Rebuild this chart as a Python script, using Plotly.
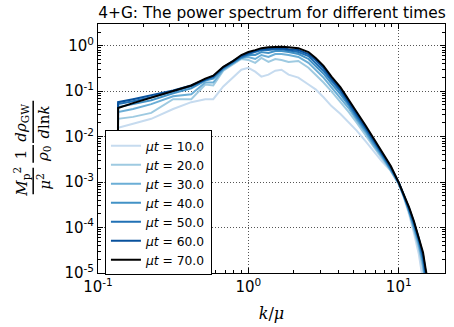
import numpy as np
import plotly.graph_objects as go

# k / mu grid (common to all snapshots)
k = [0.134, 0.136, 0.171, 0.226, 0.316, 0.417, 0.517, 0.584, 0.681, 0.794, 0.898, 1.0,
     1.11, 1.22, 1.36, 1.51, 1.66, 1.85, 2.15, 2.51, 2.80, 3.16, 3.57, 4.10, 4.64,
     5.25, 6.03, 6.81, 7.70, 8.85, 10.0, 10.8, 11.7, 12.6, 13.6, 14.5, 15.1, 15.8]

# log10 of the normalised GW power spectrum
log_t10 = [-7, -1.803, -1.717, -1.609, -1.393, -1.242, -1.177, -1.177, -0.896, -0.702, -0.529, -0.486,
           -0.572, -0.680, -0.637, -0.551, -0.529, -0.637, -0.702, -0.853, -0.961, -1.134, -1.328,
           -1.501, -1.674, -1.868, -2.106, -2.322, -2.538, -2.754, -3.056, -3.337, -3.704, -4.114,
           -4.590, -5.173, -5.713, -6.145]
log_t20 = [-7, -1.609, -1.566, -1.479, -1.177, -1.177, -0.853, -0.875, -0.551, -0.400, -0.292, -0.313,
           -0.378, -0.270, -0.356, -0.292, -0.313, -0.356, -0.335, -0.486, -0.637, -0.810, -1.004,
           -1.242, -1.458, -1.695, -1.976, -2.235, -2.473, -2.754, -3.035, -3.315, -3.661, -4.050,
           -4.460, -4.914, -5.389, -5.886]
log_t30 = [-7, -1.458, -1.393, -1.285, -1.112, -1.069, -0.810, -0.810, -0.529, -0.378, -0.270, -0.248,
           -0.292, -0.205, -0.248, -0.184, -0.184, -0.205, -0.248, -0.378, -0.529, -0.702, -0.918,
           -1.156, -1.371, -1.631, -1.911, -2.192, -2.430, -2.732, -3.035, -3.315, -3.639, -4.006,
           -4.395, -4.827, -5.281, -5.756]
log_t40 = [-7, -1.350, -1.285, -1.199, -1.048, -0.940, -0.767, -0.724, -0.508, -0.378, -0.270, -0.205,
           -0.205, -0.140, -0.162, -0.119, -0.119, -0.140, -0.184, -0.292, -0.443, -0.616, -0.832,
           -1.069, -1.307, -1.587, -1.868, -2.149, -2.397, -2.711, -3.013, -3.294, -3.618, -3.963,
           -4.330, -4.741, -5.173, -5.605]
log_t50 = [-7, -1.285, -1.220, -1.134, -1.004, -0.896, -0.745, -0.691, -0.486, -0.356, -0.248, -0.184,
           -0.140, -0.097, -0.097, -0.076, -0.076, -0.097, -0.140, -0.227, -0.378, -0.551, -0.767,
           -1.004, -1.263, -1.544, -1.825, -2.106, -2.365, -2.689, -3.013, -3.294, -3.596, -3.920,
           -4.287, -4.676, -5.086, -5.497]
log_t60 = [-7, -1.242, -1.177, -1.091, -0.983, -0.875, -0.734, -0.670, -0.475, -0.346, -0.227, -0.162,
           -0.119, -0.076, -0.065, -0.054, -0.054, -0.076, -0.097, -0.184, -0.313, -0.486, -0.724,
           -0.961, -1.220, -1.501, -1.803, -2.084, -2.343, -2.667, -3.013, -3.272, -3.575, -3.877,
           -4.244, -4.611, -5.000, -5.389]
log_t70 = [-7, -1.371, -1.263, -1.145, -1.004, -0.875, -0.724, -0.659, -0.464, -0.335, -0.205, -0.140,
           -0.097, -0.054, -0.032, -0.022, -0.022, -0.032, -0.054, -0.140, -0.270, -0.443, -0.680,
           -0.918, -1.177, -1.458, -1.760, -2.041, -2.322, -2.646, -3.013, -3.272, -3.553, -3.855,
           -4.201, -4.546, -4.914, -5.281]

times = ["10.0", "20.0", "30.0", "40.0", "50.0", "60.0", "70.0"]
series = [log_t10, log_t20, log_t30, log_t40, log_t50, log_t60, log_t70]
colors = ["#c6dbef", "#9ecae1", "#6baed6", "#4292c6", "#2171b5", "#08519c", "#000000"]

x_tickvals = [0.1, 1, 10]
x_ticktext = ["10<sup>-1</sup>", "10<sup>0</sup>", "10<sup>1</sup>"]
y_tickvals = [1e-5, 1e-4, 1e-3, 1e-2, 1e-1, 1]
y_ticktext = ["10<sup>-5</sup>", "10<sup>-4</sup>", "10<sup>-3</sup>", "10<sup>-2</sup>",
              "10<sup>-1</sup>", "10<sup>0</sup>"]

fig = go.Figure()
for t, s, c in zip(times, series, colors):
    fig.add_trace(go.Scatter(
        x=k, y=np.power(10.0, s), mode="lines",
        line=dict(color=c, width=2),
        name=f"<i>μt</i> = {t}",
    ))

minor_x = [m * 10.0 ** d for d in (-1, 0, 1) for m in range(2, 10)]
minor_y = [m * 10.0 ** d for d in (-5, -4, -3, -2, -1, 0) for m in range(2, 10)]

axis_common = dict(
    type="log", showline=True, linecolor="black", linewidth=1, mirror="allticks",
    ticks="inside", ticklen=5, tickcolor="black", tickwidth=1,
    showgrid=True, gridcolor="#555", griddash="1px,2px", gridwidth=1,
    zeroline=False, tickfont=dict(family="DejaVu Sans", size=15, color="black"),
)

fig.update_xaxes(
    **axis_common, range=[-1, np.log10(20.3)],
    tickvals=x_tickvals, ticktext=x_ticktext,
    minor=dict(tickvals=minor_x, ticks="inside", ticklen=3, tickcolor="black", showgrid=False),
    title=dict(text="<i>k</i>/<i>μ</i>", font=dict(family="DejaVu Serif", size=16, color="black"),
               standoff=12),
)
fig.update_yaxes(
    **axis_common, range=[-5, np.log10(3.0)],
    tickvals=y_tickvals, ticktext=y_ticktext,
    minor=dict(tickvals=minor_y, ticks="inside", ticklen=3, tickcolor="black", showgrid=False),
)

# y-axis label built from three stacked fractions
serif = dict(family="DejaVu Serif", size=15, color="black")
def px_x(p):
    return (p - 98) / 348.0
def px_y(p):
    return (277 - p) / 253.0

fracs = [
    ("<i>M</i><sub>p</sub><sup>2</sup>", "<i>μ</i><sup>2</sup>", 184, 170, 197),
    ("1", "<i>ρ</i><sub>0</sub>", 156, 147, 165),
    ("<i>dρ</i><sub>GW</sub>", "<i>d</i>ln<i>k</i>", 124, 102, 145),
]
annotations = []
shapes = []
for num, den, cy, y0, y1 in fracs:
    annotations.append(dict(text=num, x=px_x(21), y=px_y(cy), xref="paper", yref="paper",
                            xanchor="center", yanchor="middle", textangle=-90, showarrow=False,
                            font=serif))
    annotations.append(dict(text=den, x=px_x(44), y=px_y(cy), xref="paper", yref="paper",
                            xanchor="center", yanchor="middle", textangle=-90, showarrow=False,
                            font=serif))
    shapes.append(dict(type="line", xref="paper", yref="paper", x0=px_x(33), x1=px_x(33),
                       y0=px_y(y0), y1=px_y(y1), line=dict(color="black", width=1.5)))

fig.update_layout(
    width=454, height=327,
    margin=dict(l=98, r=8, t=24, b=50),
    paper_bgcolor="white", plot_bgcolor="white",
    title=dict(text="4+G: The power spectrum for different times", x=0.599, xanchor="center",
               y=1 - 13 / 327, yanchor="middle",
               font=dict(family="DejaVu Sans", size=15.4, color="black")),
    legend=dict(x=0.02, y=0.573, xanchor="left", yanchor="top",
                bgcolor="white", bordercolor="black", borderwidth=1,
                font=dict(family="DejaVu Sans", size=12.3, color="black"),
                tracegroupgap=0, itemwidth=30),
    showlegend=True,
    annotations=annotations, shapes=shapes,
)

fig.write_html("out.html")
